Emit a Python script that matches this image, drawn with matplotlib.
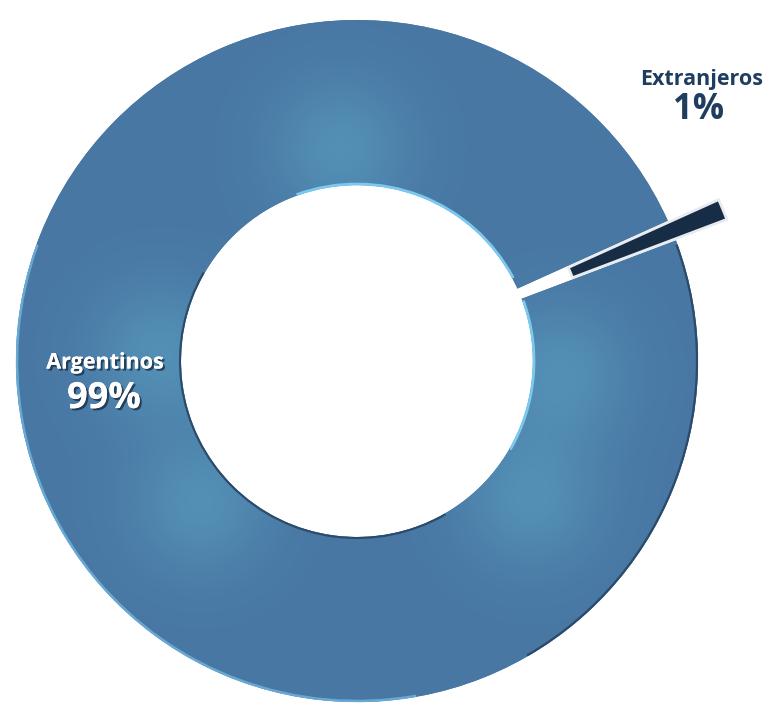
import numpy as np
import matplotlib.pyplot as plt
import matplotlib.patheffects as pe
from matplotlib.patches import Arc

# datos
categorias = ['Argentinos', 'Extranjeros']
porcentajes = [99, 1]
etiquetas = ['99%', '1%']

colores = ['#4877a3', '#172c45']

fig = plt.figure(figsize=(7.65, 7.04), dpi=100)
ax = fig.add_axes([0, 0, 1, 1])

cx, cy = 357, 343
radio = 341
ancho = 165

wedges, _ = ax.pie(porcentajes, colors=colores, radius=radio, center=(cx, cy),
                   startangle=24.3, counterclock=True, explode=[0, 55],
                   wedgeprops=dict(width=ancho, edgecolor='white', linewidth=1.5))
wedges[0].set_edgecolor('none')
wedges[1].set_edgecolor('#e8ecf0')
wedges[1].set_linewidth(2)

# brillos suaves dentro del anillo
xx, yy = np.meshgrid(np.arange(0, 765), np.arange(0, 704))
glow = np.zeros_like(xx, dtype=float)
for (px, py) in [(340, 555), (160, 350), (560, 330), (200, 200), (530, 205)]:
    glow += np.exp(-(((xx - px) ** 2 + (yy - py) ** 2) / (2 * 50 ** 2)))
glow = np.clip(glow, 0, 1) * 0.8
base = np.array([0x48, 0x77, 0xa3]) / 255
claro = np.array([0x56, 0x95, 0xba]) / 255
img = base[None, None, :] * (1 - glow[..., None]) + claro[None, None, :] * glow[..., None]
im = ax.imshow(img, origin='lower', extent=(0, 765, 0, 704), zorder=1.5)
im.set_clip_path(wedges[0])

# bordes claros / oscuros
ax.add_patch(Arc((cx, cy), 2 * radio - 2, 2 * radio - 2, theta1=160, theta2=280,
                 color='#6fb6e0', lw=1.8, alpha=0.8, zorder=3))
ax.add_patch(Arc((cx, cy), 2 * radio - 2, 2 * radio - 2, theta1=-60, theta2=20,
                 color='#2c4a6a', lw=1.6, zorder=3))
ri = radio - ancho
ax.add_patch(Arc((cx, cy), 2 * ri + 2, 2 * ri + 2, theta1=-30, theta2=20,
                 color='#7cc8ee', lw=2, zorder=3))
ax.add_patch(Arc((cx, cy), 2 * ri + 2, 2 * ri + 2, theta1=28, theta2=110,
                 color='#7cc8ee', lw=2, zorder=3))
ax.add_patch(Arc((cx, cy), 2 * ri + 2, 2 * ri + 2, theta1=150, theta2=300,
                 color='#2c4a6a', lw=1.5, zorder=3))

sombra = [pe.withSimplePatchShadow(offset=(1.5, -1.5), shadow_rgbFace='#1c2f45', alpha=0.8), pe.Normal()]

ax.text(105, 341, categorias[0], ha='center', va='center', fontsize=15.5,
        fontweight='bold', color='white', family='Open Sans', path_effects=sombra, zorder=5)
ax.text(104, 305, etiquetas[0], ha='center', va='center', fontsize=26,
        fontweight='bold', color='white', family='Open Sans', path_effects=sombra, zorder=5)
ax.text(702, 625, categorias[1], ha='center', va='center', fontsize=15.5,
        fontweight='bold', color='#1f3d5e', family='Open Sans', zorder=5)
ax.text(699, 594, etiquetas[1], ha='center', va='center', fontsize=25,
        fontweight='bold', color='#1f3d5e', family='Open Sans', zorder=5)

ax.set_xlim(0, 765)
ax.set_ylim(0, 704)
ax.set_aspect('equal')
ax.axis('off')

fig.savefig('out.png', dpi=100, facecolor='white')
